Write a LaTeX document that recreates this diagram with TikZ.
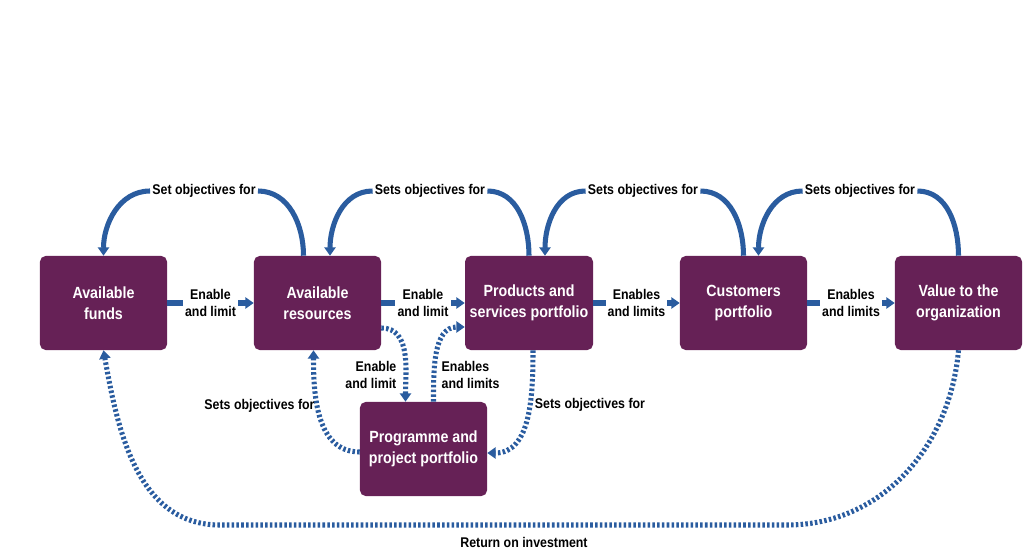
\documentclass[tikz,border=0pt]{standalone}
\usepackage{fontspec}
\setmainfont{Liberation Sans}[FakeStretch=0.88]
\usetikzlibrary{arrows.meta,calc}
\definecolor{boxpurple}{HTML}{662156}
\definecolor{arrowblue}{HTML}{2A5C9F}

\begin{document}
\begin{tikzpicture}[x=0.025cm,y=-0.025cm,
    portfolio/.style={fill=boxpurple,rounded corners=4pt,minimum width=3.175cm,minimum height=2.35cm,
      text=white,align=center,font=\fontsize{11.5}{15}\selectfont\bfseries},
    flow/.style={draw=arrowblue,line width=3.6pt},
    flowtip/.style={-{Triangle[width=8pt,length=6pt]}},
    loopflow/.style={flow,dash pattern=on 1.8pt off 1.6pt},
    lbl/.style={fill=white,inner sep=1.5pt,align=center,font=\fontsize{10}{11.5}\selectfont\bfseries},
    note/.style={inner sep=1pt,font=\fontsize{10}{11.5}\selectfont\bfseries}]
  \useasboundingbox (0,0) rectangle (1024,551);

  % portfolios
  \node[portfolio] (funds) at (103.5,303) {Available\\funds};
  \node[portfolio] (res) at (317.5,303) {Available\\resources};
  \node[portfolio] (prod) at (529,303) {Products and\\services portfolio};
  \node[portfolio] (cust) at (743.5,303) {Customers\\portfolio};
  \node[portfolio] (val) at (958.5,303) {Value to the\\organization};
  \node[portfolio] (prog) at (423.5,449) {Programme and\\project portfolio};

  % forward flow
  \draw[flow,flowtip] (funds) -- node[lbl] {Enable\\and limit} (res);
  \draw[flow,flowtip] (res) -- node[lbl] {Enable\\and limit} (prod);
  \draw[flow,flowtip] (prod) -- node[lbl] {Enables\\and limits} (cust);
  \draw[flow,flowtip] (cust) -- node[lbl] {Enables\\and limits} (val);

  % objectives back along the top
  \node[lbl] (obj1) at (204,191) {Set objectives for};
  \node[lbl] (obj2) at (430,191) {Sets objectives for};
  \node[lbl] (obj3) at (643,191) {Sets objectives for};
  \node[lbl] (obj4) at (860,191) {Sets objectives for};
  \draw[flow] ($(res.north)+(-14,0)$) to[out=90,in=0] (obj1.east);
  \draw[flow,flowtip] (obj1.west) to[out=180,in=90] (funds.north);
  \draw[flow] (prod.north) to[out=90,in=0] (obj2.east);
  \draw[flow,flowtip] (obj2.west) to[out=180,in=90] ($(res.north)+(12.5,0)$);
  \draw[flow] (cust.north) to[out=90,in=0] (obj3.east);
  \draw[flow,flowtip] (obj3.west) to[out=180,in=90] ($(prod.north)+(16,0)$);
  \draw[flow] (val.north) to[out=90,in=0] (obj4.east);
  \draw[flow,flowtip] (obj4.west) to[out=180,in=90] ($(cust.north)+(15,0)$);

  % programme loop
  \draw[loopflow,flowtip] ($(res.east)+(0,25)$) to[out=0,in=90] ($(prog.north)+(-18,0)$);
  \draw[loopflow,flowtip] ($(prog.north)+(10,0)$) to[out=90,in=180] ($(prod.west)+(0,24)$);
  \draw[loopflow,flowtip] ($(prod.south)+(4,0)$) to[out=-90,in=0] ($(prog.east)+(0,4)$);
  \draw[loopflow,flowtip] ($(prog.west)+(0,3)$) to[out=180,in=-90] ($(res.south)+(-4,0)$);
  \node[note,anchor=east,align=right] (en2) at (398,375) {Enable\\and limit};
  \node[note,anchor=west,align=left] (en3) at (440,375) {Enables\\and limits};
  \node[note] (obj5) at (590,405) {Sets objectives for};
  \node[note] (obj6) at (259.5,406) {Sets objectives for};

  % return on investment
  \coordinate (roiR) at (787,525);
  \coordinate (roiL) at (220,525);
  \draw[loopflow,flowtip] (val.south) to[out=-95,in=0] (roiR) -- (roiL) to[out=180,in=-80] (funds.south);
  \node[note] (roi) at (524,542) {Return on investment};
\end{tikzpicture}
\end{document}
